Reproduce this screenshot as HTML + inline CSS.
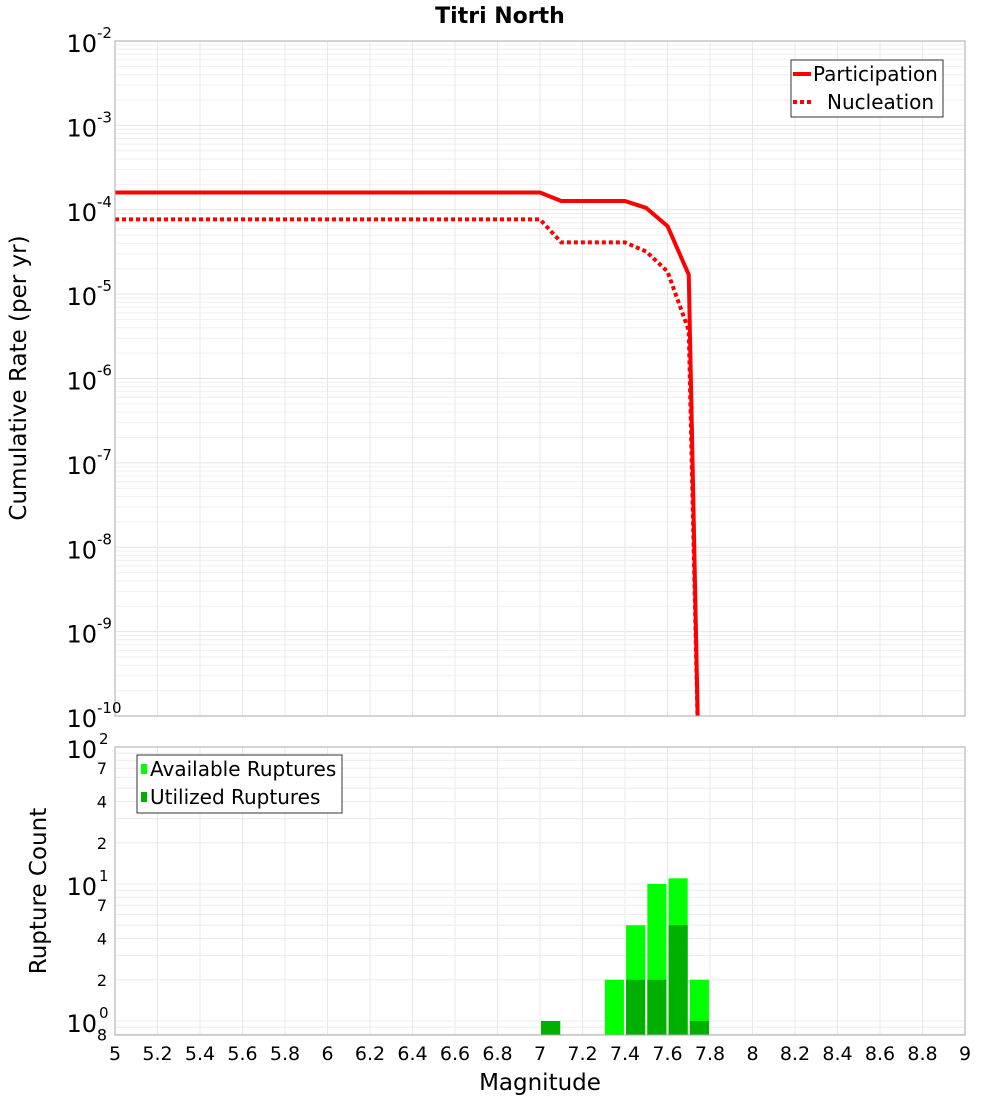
<!DOCTYPE html>
<html><head><meta charset="utf-8"><style>
body{margin:0;background:#fff;}
svg{display:block;font-family:"DejaVu Sans","Liberation Sans",sans-serif;}
</style></head><body>
<svg id="c" width="1000" height="1100">
<text x="500" y="23" text-anchor="middle" font-size="22" font-weight="bold">Titri North</text>
<g id="topg"></g>
<g id="botg"></g>
<text transform="translate(26,378) rotate(-90)" text-anchor="middle" font-size="23">Cumulative Rate (per yr)</text>
<text transform="translate(46,891) rotate(-90)" text-anchor="middle" font-size="23">Rupture Count</text>
<text x="540" y="1090" text-anchor="middle" font-size="23">Magnitude</text>
</svg>
<script>
const partMags=[5,7.0,7.1,7.4,7.5,7.6,7.7,7.75];
const partRates=[1.6e-4,1.6e-4,1.27e-4,1.27e-4,1.05e-4,6.4e-5,1.7e-5,1e-11];
const nuclMags=[5,7.0,7.1,7.4,7.5,7.6,7.7,7.75];
const nuclRates=[7.7e-5,7.7e-5,4.1e-5,4.1e-5,3.2e-5,1.85e-5,3.7e-6,1e-11];
const binMags=[7.0,7.3,7.4,7.5,7.6,7.7];
const availCounts=[1,2,5,10,11,2];
const usedCounts=[1,0,2,2,5,1];
const xTicks=[5,5.2,5.4,5.6,5.8,6,6.2,6.4,6.6,6.8,7,7.2,7.4,7.6,7.8,8,8.2,8.4,8.6,8.8,9];
const topDecades=[-2,-3,-4,-5,-6,-7,-8,-9,-10];
const botLabels=[[100,"10","2"],[70,"7"],[40,"4"],[20,"2"],[10,"10","1"],[7,"7"],[4,"4"],[2,"2"],[1,"10","0"],[0.8,"8"]];

const NS="http://www.w3.org/2000/svg";
const L=115,R=965,T1=41,B1=716,T2=747,B2=1035;
const X=m=>L+(m-5)*(R-L)/4;
const Y1=v=>T1+(-2-Math.log10(v))*(B1-T1)/8;
const Y2=v=>T2+(2-Math.log10(v))*137;
function mk(p,tag,a){const e=document.createElementNS(NS,tag);for(const k in a)e.setAttribute(k,a[k]);p.appendChild(e);return e;}
const topG=document.getElementById('topg'),botG=document.getElementById('botg');
mk(topG,'defs',{}).innerHTML='<clipPath id="cp1"><rect x="115" y="41" width="850" height="675"/></clipPath><clipPath id="cp2"><rect x="115" y="747" width="850" height="288"/></clipPath>';
for(let d=-10;d<-2;d++)for(let k=1;k<10;k++){const y=Y1(k*Math.pow(10,d));
 const g=mk(topG,'line',{x1:L,x2:R,y1:y,y2:y,stroke:k==1?'#e4e4e4':'#efefef','stroke-width':1});
 
 }
for(let m=5;m<=9.001;m+=0.2){const x=X(m);
 const g=mk(topG,'line',{x1:x,x2:x,y1:T1,y2:B1,stroke:'#e8e8e8'});
 
 
 const g2=mk(botG,'line',{x1:x,x2:x,y1:T2,y2:B2,stroke:'#e8e8e8'});
 
 }
for(let d=-1;d<2;d++)for(let k=1;k<10;k++){const y=Y2(k*Math.pow(10,d));if(y>B2)continue;
 const g=mk(botG,'line',{x1:L,x2:R,y1:y,y2:y,stroke:'#ececec'});
 
 }
function pts(ms,vs){return ms.map((m,i)=>X(m)+','+Y1(vs[i])).join(' ');}
const p=mk(topG,'polyline',{points:pts(partMags,partRates),fill:'none',stroke:'#ff0000','stroke-width':4,'clip-path':'url(#cp1)','stroke-linejoin':'round'});


const n=mk(topG,'polyline',{points:pts(nuclMags,nuclRates),fill:'none',stroke:'#ff0000','stroke-width':4,'stroke-dasharray':'4 3','clip-path':'url(#cp1)'});


const f1=mk(topG,'rect',{x:L,y:T1,width:R-L,height:B1-T1,fill:'none',stroke:'#aaa'});


topDecades.forEach(d=>{const y=Y1(Math.pow(10,d));
 const t=mk(topG,'text',{x:97,y:y+11,'text-anchor':'end','font-size':24});t.textContent='10';
 
 
 const s=mk(topG,'text',{x:97,y:y-3,'font-size':15});s.textContent=String(d);
 
 });
binMags.forEach((m,i)=>{const x=X(m+0.005),w=X(0.09)-X(0);
 if(availCounts[i]>0){const r=mk(botG,'rect',{x:x,y:Y2(availCounts[i]),width:w,height:B2-Y2(availCounts[i])+20,fill:'#00ff00','clip-path':'url(#cp2)'});
  
  }
 if(usedCounts[i]>0){const r=mk(botG,'rect',{x:x,y:Y2(usedCounts[i]),width:w,height:B2-Y2(usedCounts[i])+20,fill:'#00b000','clip-path':'url(#cp2)'});
  
  }});
const f2=mk(botG,'rect',{x:L,y:T2,width:R-L,height:B2-T2,fill:'none',stroke:'#aaa'});


botLabels.forEach(b=>{const y=Y2(b[0]);
 if(b.length==3){const t=mk(botG,'text',{x:97,y:y+11,'text-anchor':'end','font-size':24});t.textContent=b[1];
  
  
  const s=mk(botG,'text',{x:99,y:y-3,'font-size':15});s.textContent=b[2];
  
  }
 else{const t=mk(botG,'text',{x:107,y:y+6,'text-anchor':'end','font-size':16});t.textContent=b[1];
  
  }});
xTicks.forEach(m=>{const t=mk(botG,'text',{x:X(m),y:1060,'text-anchor':'middle','font-size':19});t.textContent=String(m);
 
 });
function legend(p,x,y,w,h,items){const g=mk(p,'g',{});
 
 
 mk(g,'rect',{x:x,y:y,width:w,height:h,fill:'#fff',stroke:'#333'});
 items.forEach((it,i)=>{const e=mk(g,'g',{});
  
  
  const cy=y+14+i*28;
  if(it.bar){mk(e,'rect',{x:x+4,y:cy-5,width:6,height:10,fill:it.c});}
  else mk(e,'line',{x1:x+2,x2:x+20,y1:cy,y2:cy,stroke:it.c,'stroke-width':4,'stroke-dasharray':it.d||'none'});
  const t=mk(e,'text',{x:x+(it.tx||(it.bar?13:22)),y:cy+7,'font-size':20});t.textContent=it.t;});}
legend(topG,791,60,152,57,[{c:'#ff0000',t:'Participation'},{c:'#ff0000',t:'Nucleation',d:'4 3',tx:36}]);
legend(botG,137,755,205,58,[{c:'#00ff00',t:'Available Ruptures',bar:1},{c:'#00b000',t:'Utilized Ruptures',bar:1}]);
</script>
</body></html>
